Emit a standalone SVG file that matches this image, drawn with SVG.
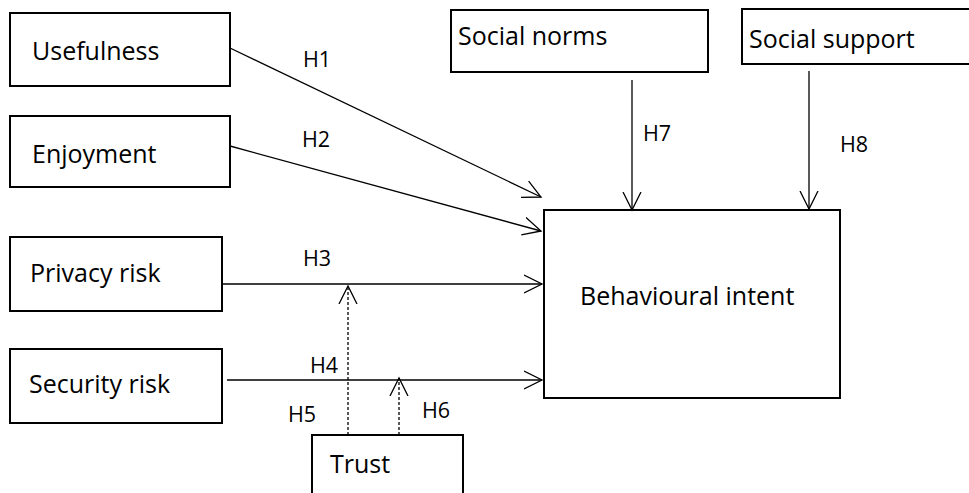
<svg xmlns="http://www.w3.org/2000/svg" width="969" height="493" viewBox="0 0 969 493">
<style>
.box{fill:#fff;stroke:#000;stroke-width:2}
.lbl{font-family:"Open Sans","Liberation Sans",sans-serif;font-size:25px;fill:#000}
.h{font-family:"Open Sans","Liberation Sans",sans-serif;font-size:21.5px;fill:#000}
.con{stroke:#000;stroke-width:1.3;fill:none}
.dash{stroke:#000;stroke-width:1.3;fill:none;stroke-dasharray:3 2}
</style>
<defs>
<marker id="arr" markerUnits="userSpaceOnUse" markerWidth="22" markerHeight="22" refX="18" refY="10" orient="auto">
<path d="M0,1 L18,10 L0,19" fill="none" stroke="#000" stroke-width="1.3"/>
</marker>
</defs>
<rect width="969" height="493" fill="#fff"/>
<g id="usefulness"><rect class="box" x="10" y="13" width="220" height="73"/><text class="lbl" x="32" y="60">Usefulness</text></g>
<g id="enjoyment"><rect class="box" x="10" y="116" width="220" height="71"/><text class="lbl" x="32" y="163">Enjoyment</text></g>
<g id="privacy"><rect class="box" x="10" y="237" width="212" height="74"/><text class="lbl" x="30" y="282">Privacy risk</text></g>
<g id="security"><rect class="box" x="10" y="349" width="212" height="74"/><text class="lbl" x="29" y="393">Security risk</text></g>
<g id="trust"><rect class="box" x="312" y="435" width="151" height="70"/><text class="lbl" x="330" y="473">Trust</text></g>
<g id="socialnorms"><rect class="box" x="451" y="10" width="257" height="62"/><text class="lbl" x="458" y="45">Social norms</text></g>
<g id="socialsupport"><rect class="box" x="742" y="9" width="240" height="55"/><text class="lbl" x="749" y="48">Social support</text></g>
<g id="intent"><rect class="box" x="544" y="210" width="296" height="188"/><text class="lbl" x="580" y="305">Behavioural intent</text></g>
<g id="connectors">
<line class="con" x1="230" y1="48" x2="541" y2="197" marker-end="url(#arr)"/>
<line class="con" x1="230" y1="146" x2="541" y2="231" marker-end="url(#arr)"/>
<line class="con" x1="222" y1="284" x2="542" y2="284" marker-end="url(#arr)"/>
<line class="con" x1="227" y1="380" x2="542" y2="380" marker-end="url(#arr)"/>
<line class="con" x1="632" y1="80" x2="632" y2="210" marker-end="url(#arr)"/>
<line class="con" x1="809" y1="71" x2="809" y2="209" marker-end="url(#arr)"/>
<line class="dash" x1="348" y1="435" x2="348" y2="286" marker-end="url(#arr)"/>
<line class="dash" x1="399" y1="435" x2="399" y2="378" marker-end="url(#arr)"/>
<text class="h" x="303" y="67">H1</text>
<text class="h" x="302" y="147">H2</text>
<text class="h" x="303" y="266">H3</text>
<text class="h" x="310" y="373">H4</text>
<text class="h" x="288" y="422">H5</text>
<text class="h" x="422" y="418">H6</text>
<text class="h" x="643" y="141">H7</text>
<text class="h" x="840" y="152">H8</text>
</g>
</svg>
